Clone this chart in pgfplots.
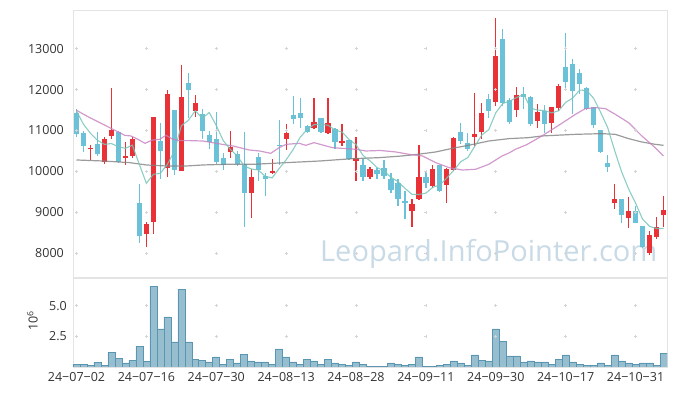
\documentclass[border=0pt]{standalone}
\usepackage{fontspec}
\setmainfont{Open Sans}
\usepackage{pgfplots}
\pgfplotsset{compat=1.18}
\usepackage{pgfplotstable}

\definecolor{upc}{RGB}{233,50,56}
\definecolor{dnc}{RGB}{107,193,216}
\definecolor{maA}{RGB}{120,196,186}
\definecolor{maB}{RGB}{198,128,192}
\definecolor{maC}{RGB}{130,130,130}
\definecolor{volf}{RGB}{150,190,206}
\definecolor{vold}{RGB}{90,150,178}
\definecolor{frm}{RGB}{228,228,228}
\definecolor{crs}{RGB}{212,212,212}
\definecolor{wm}{RGB}{200,218,230}
\definecolor{lbl}{RGB}{51,51,51}

\pgfplotstableread{
i o h l c
0 11435 11517 10848 10905
1 10930 10987 10482 10620
2 10539 10636 10278 10571
3 10661 10962 10376 10416
4 10237 10848 10188 10783
5 10865 12046 10800 11003
6 10971 10987 10213 10237
7 10319 10718 10156 10376
8 10376 10848 10335 10800
9 9218 9699 8257 8420
10 8460 8762 8159 8705
11 8762 11337 8477 11337
12 10742 11191 9805 10498
13 10074 11981 9870 11883
14 11492 11492 9903 10033
15 10009 12593 10009 11826
16 12169 12413 11313 11989
17 11476 11867 11337 11663
18 11411 11533 10783 10987
19 10881 10987 10555 10726
20 10800 11452 10172 10229
21 10335 10441 10025 10148
22 10482 10987 10335 10604
23 10416 10498 10131 10188
24 10188 10971 8648 9479
25 9479 10050 8868 9870
26 10359 10441 9764 10033
27 9887 9968 9398 9822
28 9960 10310 9952 10001
29 10645 11256 10156 10620
30 10800 11166 10514 10930
31 11370 11843 11150 11289
32 11419 11802 11069 11313
33 11109 11125 10946 10971
34 11069 11802 11028 11215
35 11297 11313 10930 10962
36 10946 11786 10930 11174
37 11044 11069 10539 10718
38 10685 11166 10620 10742
39 10767 10767 10278 10310
40 10262 10840 9764 10319
41 10156 10294 9764 9862
42 9862 10107 9805 10050
43 10025 10091 9805 9928
44 10091 10278 9805 9887
45 9805 9952 9479 9544
46 9724 9805 9153 9333
47 9251 9520 8827 9235
48 9031 9316 8648 9194
49 9316 10645 9300 9870
50 9870 10009 9601 9707
51 9642 10156 9601 10050
52 10148 10156 9496 9520
53 9667 10091 9218 10050
54 10033 10848 10009 10824
55 10971 11174 10661 10742
56 10702 10946 10498 10555
57 10848 11924 10620 10905
58 10962 11680 10783 11419
59 11778 11883 11300 11474
60 11695 13758 11597 12819
61 13227 13472 11597 11680
62 11743 11802 11149 11205
63 11499 12071 11337 11858
64 11883 12071 11516 11826
65 11826 11840 11108 11149
66 11230 11638 11068 11450
67 11474 11614 10946 11149
68 11191 11582 10929 11572
69 11557 12127 11474 12086
70 12560 13375 12046 12185
71 12617 12756 11394 11965
72 12413 12495 11883 12128
73 12046 12071 11517 11533
74 11582 11582 11069 11125
75 11011 11011 10457 10474
76 10213 10392 9985 10115
77 9218 9683 9088 9316
78 9316 9316 8730 8925
79 8868 9381 8623 9031
80 9031 9153 8730 8730
81 8664 8664 8134 8159
82 8012 8542 7947 8436
83 8403 8892 8355 8648
84 8925 9398 8648 9055
}\candles

\pgfplotstableread{
i v
0 11476
1 11150
2 10930
3 10760
4 10659
5 10679
6 10602
7 10563
8 10640
9 10167
10 9708
11 9928
12 9952
13 10169
14 10491
15 11115
16 11246
17 11479
18 11300
19 11438
20 11119
21 10751
22 10539
23 10379
24 10130
25 10058
26 10035
27 9878
28 9841
29 10069
30 10281
31 10532
32 10831
33 11025
34 11144
35 11150
36 11127
37 11008
38 10962
39 10781
40 10653
41 10390
42 10257
43 10094
44 10009
45 9854
46 9748
47 9585
48 9439
49 9435
50 9468
51 9611
52 9668
53 9839
54 10030
55 10237
56 10338
57 10615
58 10889
59 11019
60 11434
61 11659
62 11719
63 11807
64 11878
65 11544
66 11498
67 11486
68 11429
69 11481
70 11688
71 11791
72 11987
73 11979
74 11787
75 11445
76 11075
77 10513
78 9991
79 9572
80 9224
81 8832
82 8656
83 8601
84 8606
}\maA

\pgfplotstableread{
i v
0 11492
1.9 11313
3.8 11150
5.7 10987
6.9 10881
7.8 10865
8.8 10783
9.8 10685
10.9 10767
11.9 10783
12.8 10881
13.8 10783
14.7 10751
16.2 10751
18.1 10742
20.0 10685
21.4 10645
22.4 10620
24.7 10522
26.2 10498
27.8 10441
29.0 10580
30.0 10661
31.9 10685
32.8 10636
34.0 10702
35.2 10645
36.6 10580
38.6 10555
40.0 10539
41.4 10498
43.5 10510
45.7 10474
47.6 10416
49.5 10376
51.4 10213
53.3 10091
55.2 10033
57.1 10050
59.0 10172
60.9 10376
61.9 10450
62.8 10539
64.4 10650
66.6 10865
69.0 11125
71.4 11394
72.8 11533
74.3 11557
75.7 11533
77.1 11394
79.0 11191
80.9 10865
82.8 10580
84.0 10376
}\maB

\pgfplotstableread{
i v
0 10278
3.8 10253
7.6 10213
10.0 10156
12.8 10131
15.7 10131
18.1 10156
21.4 10172
25.3 10172
30.0 10213
34.8 10253
39.5 10310
43.3 10335
46.6 10376
49.0 10420
51.4 10474
54.0 10570
56.2 10640
59.0 10742
61.9 10800
64.7 10824
66.6 10865
71.4 10905
75.2 10922
77.1 10905
79.0 10800
80.9 10718
82.8 10661
84.0 10636
}\maC

\pgfplotstableread{
i v
0 0.24
1 0.24
2 0.16
3 0.40
4 0.16
5 1.22
6 0.73
7 0.33
8 0.57
9 1.71
10 0.43
11 6.60
12 3.10
13 4.08
14 2.04
15 6.36
16 2.04
17 0.65
18 0.57
19 0.41
20 0.82
21 0.24
22 0.65
23 0.33
24 1.06
25 0.49
26 0.41
27 0.41
28 0.24
29 1.47
30 0.82
31 0.41
32 0.24
33 0.65
34 0.49
35 0.24
36 0.65
37 0.33
38 0.24
39 0.16
40 0.41
41 0.24
42 0.08
43 0.08
44 0.08
45 0.33
46 0.24
47 0.16
48 0.24
49 0.82
50 0.08
51 0.08
52 0.16
53 0.24
54 0.49
55 0.33
56 0.16
57 0.98
58 0.57
59 0.49
60 3.10
61 2.12
62 0.90
63 0.90
64 0.41
65 0.49
66 0.41
67 0.41
68 0.24
69 0.65
70 0.98
71 0.41
72 0.24
73 0.16
74 0.16
75 0.33
76 0.16
77 0.98
78 0.49
79 0.33
80 0.24
81 0.33
82 0.33
83 0.16
84 1.14
}\vol

\pgfplotsset{
  candle/.style={draw=none, no markers, forget plot,
    error bars/y explicit, error bars/error mark=none}
}

\begin{document}
\begin{tikzpicture}
\path[use as bounding box] (0pt,0pt) rectangle (677pt,396pt);
\begin{axis}[
  at={(73pt,119pt)}, anchor=south west, scale only axis,
  width=594pt, height=267pt,
  xmin=-0.5, xmax=84.5, ymin=7417, ymax=13945,
  axis line style={draw=frm, line width=0.8pt},
  major tick length=0pt,
  xtick=\empty, ytick={8000,9000,...,13000},
  yticklabel style={font=\fontsize{12.5}{13}\selectfont, text=lbl, inner sep=0pt, anchor=east, xshift=-9pt},
  /pgf/number format/assume math mode=true,
  /pgf/number format/1000 sep={},
  scaled y ticks=false,
]
\pgfplotsinvokeforeach{0,10,...,80}{
  \addplot[only marks, mark=+, mark size=1.5pt, draw=crs, mark options={line width=0.7pt}, forget plot]
    coordinates {(#1,8000)(#1,9000)(#1,10000)(#1,11000)(#1,12000)(#1,13000)};
}
\node[anchor=base west, inner sep=0pt, text=wm, font=\fontsize{29}{29}\selectfont]
  at (rel axis cs:0.4158,0.0573) {Leopard.InfoPointer.com};
% up candles (red)
\addplot[candle, error bars/y dir=both, error bars/error bar style={draw=upc, line width=1.2pt}]
  table[x expr={\thisrow{c}>=\thisrow{o} ? \thisrow{i} : nan}, y=o,
        y error plus expr={\thisrow{h}-\thisrow{o}},
        y error minus expr={\thisrow{o}-\thisrow{l}}] {\candles};
\addplot[candle, error bars/y dir=plus, error bars/error bar style={draw=upc, line width=5.2pt}]
  table[x expr={\thisrow{c}>=\thisrow{o} ? \thisrow{i} : nan}, y=o,
        y error plus expr={max(\thisrow{c}-\thisrow{o},30)}] {\candles};
% down candles (blue)
\addplot[candle, error bars/y dir=both, error bars/error bar style={draw=dnc, line width=1.2pt}]
  table[x expr={\thisrow{c}<\thisrow{o} ? \thisrow{i} : nan}, y=c,
        y error plus expr={\thisrow{h}-\thisrow{c}},
        y error minus expr={\thisrow{c}-\thisrow{l}}] {\candles};
\addplot[candle, error bars/y dir=plus, error bars/error bar style={draw=dnc, line width=5.2pt}]
  table[x expr={\thisrow{c}<\thisrow{o} ? \thisrow{i} : nan}, y=c,
        y error plus expr={max(\thisrow{o}-\thisrow{c},30)}] {\candles};
% moving averages
\addplot[maC, line width=1.2pt, opacity=0.8, no markers] table[x=i,y=v] {\maC};
\addplot[maB, line width=1.2pt, opacity=0.8, no markers] table[x=i,y=v] {\maB};
\addplot[maA, line width=1.1pt, opacity=0.85, no markers] table[x=i,y=v] {\maA};
\end{axis}

\begin{axis}[
  at={(73pt,29pt)}, anchor=south west, scale only axis,
  width=594pt, height=89pt,
  xmin=-0.5, xmax=84.5, ymin=0, ymax=7.26,
  axis line style={draw=frm, line width=0.8pt},
  major tick length=0pt,
  xtick={0,10,...,80},
  xticklabels={24−07−02,24−07−16,24−07−30,24−08−13,24−08−28,24−09−11,24−09−30,24−10−17,24−10−31},
  xticklabel style={font=\fontsize{12.5}{13}\selectfont, text=lbl, inner sep=0pt, anchor=north, yshift=-5pt},
  ytick={2.5,5},
  yticklabel style={font=\fontsize{12.5}{13}\selectfont, text=lbl, inner sep=0pt, anchor=east, xshift=-6pt},
  /pgf/number format/assume math mode=true,
  /pgf/number format/fixed, /pgf/number format/fixed zerofill, /pgf/number format/precision=1,
  ylabel={10\textsuperscript{6}},
  ylabel style={at={(rel axis cs:-0.0684,0.52)}, anchor=center, rotate=0, font=\fontsize{12.5}{13}\selectfont, text=lbl},
]
\pgfplotsinvokeforeach{0,10,...,80}{
  \addplot[only marks, mark=+, mark size=1.5pt, draw=crs, mark options={line width=0.7pt}, forget plot]
    coordinates {(#1,2.5)(#1,5)};
}
\addplot[ybar, bar width=6.99pt, fill=volf, draw=vold, line width=0.6pt] table[x=i,y=v] {\vol};
\end{axis}
\end{tikzpicture}
\end{document}
